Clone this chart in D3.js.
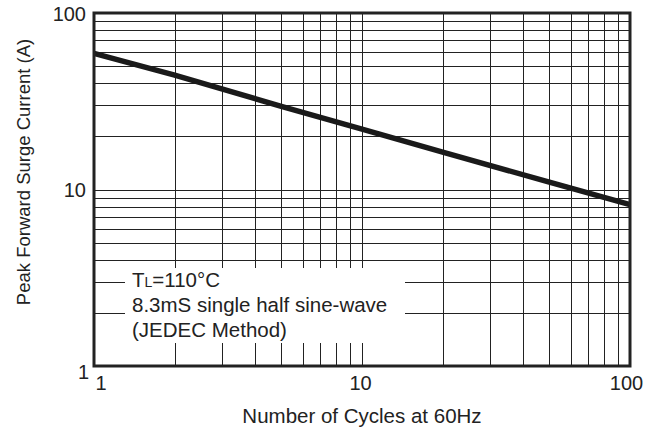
<!DOCTYPE html>
<html>
<head>
<meta charset="utf-8">
<script src="https://cdn.jsdelivr.net/npm/d3@7"></script>
<style>
  html, body { margin: 0; padding: 0; background: #fff; }
  svg { display: block; }
  text { font-family: "Liberation Sans", Arial, Helvetica, sans-serif; fill: #222; }
</style>
</head>
<body>
<svg id="chart" width="657" height="432"></svg>
<script>
// ---- data ----
const cycles = [1, 2, 5, 10, 20, 50, 100];
const surgeCurrent = [59, 44.5, 29.6, 22, 16.3, 11, 8.2];
const xTickValues = [1, 10, 100];
const yTickValues = [1, 10, 100];
const xTickLabels = ["1", "10", "100"];
const yTickLabels = ["1", "10", "100"];
const legendLines = ["8.3mS single half sine-wave", "(JEDEC Method)"];
const xTitle = "Number of Cycles at 60Hz";
const yTitle = "Peak Forward Surge Current (A)";

// ---- layout ----
const W = 657, H = 432;
const m = { left: 94, right: 27, top: 13, bottom: 66 };
const pw = W - m.left - m.right, ph = H - m.top - m.bottom;

const svg = d3.select("#chart");
const g = svg.append("g").attr("transform", `translate(${m.left},${m.top})`);

const x = d3.scaleLog().domain([1, 100]).range([0, pw]);
const y = d3.scaleLog().domain([1, 100]).range([ph, 0]);

// grid values: 2..9, 10, 20..90
const gridVals = [];
for (const dec of [1, 10]) for (let k = 1; k <= 9; k++) { const v = k * dec; if (v > 1) gridVals.push(v); }

const grid = g.append("g").attr("shape-rendering", "crispEdges");
grid.selectAll("line.v").data(gridVals).join("line")
  .attr("class", "v")
  .attr("x1", d => Math.round(x(d)) + 0.5).attr("x2", d => Math.round(x(d)) + 0.5)
  .attr("y1", 0).attr("y2", ph)
  .attr("stroke", "#222").attr("stroke-width", 1);
grid.selectAll("line.h").data(gridVals).join("line")
  .attr("class", "h")
  .attr("y1", d => Math.round(y(d)) + 0.5).attr("y2", d => Math.round(y(d)) + 0.5)
  .attr("x1", 0).attr("x2", pw)
  .attr("stroke", "#222").attr("stroke-width", 1);

// legend background box (covers gridlines)
g.append("rect")
  .attr("x", 125 - m.left).attr("y", 268 - m.top)
  .attr("width", 405 - 125).attr("height", 343 - 268)
  .attr("fill", "#fff");

// curve
const line = d3.line().x((d, i) => x(cycles[i])).y(d => y(d));
g.append("path")
  .datum(surgeCurrent)
  .attr("d", line)
  .attr("fill", "none")
  .attr("stroke", "#1a1a1a")
  .attr("stroke-width", 5.5);

// frame
g.append("rect")
  .attr("x", 0).attr("y", 0).attr("width", pw).attr("height", ph)
  .attr("fill", "none").attr("stroke", "#222").attr("stroke-width", 3);

// axes (labels only)
const xAxis = d3.axisBottom(x).tickValues(xTickValues)
  .tickFormat((d, i) => xTickLabels[i]).tickSize(0).tickPadding(0);
const xa = g.append("g").attr("transform", `translate(0,${ph})`).call(xAxis);
xa.select(".domain").remove();
xa.selectAll("text")
  .attr("y", 24).attr("dy", 0)
  .style("font-size", "20px")
  .attr("text-anchor", (d, i) => i === 0 ? "start" : "middle")
  .attr("dx", (d, i) => i === 0 ? 1 : (i === 1 ? -2 : -4));

const yAxis = d3.axisLeft(y).tickValues(yTickValues)
  .tickFormat((d, i) => yTickLabels[i]).tickSize(0).tickPadding(8);
const ya = g.append("g").call(yAxis);
ya.select(".domain").remove();
ya.selectAll("text")
  .style("font-size", "20px")
  .attr("dy", (d, i) => i === 0 ? "0.62em" : "0.36em")
  .attr("dx", (d, i) => i === 0 ? 3 : 0);

// axis titles
svg.append("text")
  .attr("x", m.left + pw / 2).attr("y", 423)
  .attr("text-anchor", "middle")
  .style("font-size", "20.5px")
  .text(xTitle);
svg.append("text")
  .attr("transform", `translate(30,172) rotate(-90)`)
  .attr("text-anchor", "middle")
  .style("font-size", "18.5px")
  .text(yTitle);

// legend text
const lt = svg.append("text").attr("x", 132).attr("y", 287).style("font-size", "20.5px");
lt.append("tspan").text("T");
lt.append("tspan").style("font-size", "14px").text("L");
lt.append("tspan").text("=110°C");
legendLines.forEach((s, i) => {
  svg.append("text").attr("x", 132).attr("y", 312 + i * 25).style("font-size", "20.5px").text(s);
});
</script>
</body>
</html>
